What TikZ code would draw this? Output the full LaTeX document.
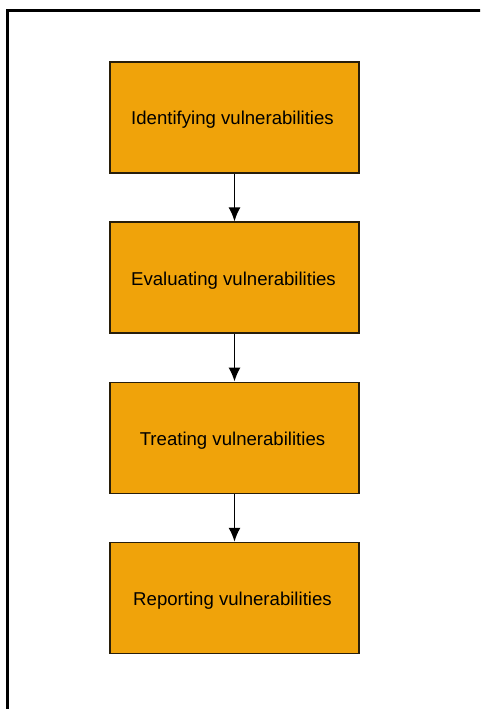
\documentclass[tikz,border=0pt]{standalone}
\usepackage{fontspec}
\setmainfont{Liberation Sans}
\usepackage{tikz}
\usetikzlibrary{arrows.meta, positioning}
\definecolor{stageorange}{RGB}{240,163,10}
\definecolor{stageedge}{RGB}{40,30,10}

\begin{document}
\begin{tikzpicture}[
    x=1pt, y=1pt,
    node distance=47.7pt,
    stagebox/.style={rectangle, draw=stageedge, line width=1.5pt, fill=stageorange, align=center,
        minimum width=249pt, minimum height=111pt, inner sep=0pt,
        font=\fontsize{18.6pt}{22pt}\selectfont},
    arrow/.style={-{Latex[length=14pt,width=12pt]}, line width=1.8pt}
]
\useasboundingbox (0,0) rectangle (480,-709);
\clip (0,0) rectangle (480,-709);
% outer frame, only top and left edges show
\draw[line width=3.2pt] (7.5,-760) |- (540,-10.5);

\node[stagebox] (identify) at (234.5,-117.5) {\raisebox{-2.5pt}[\height][\depth]{\hspace*{-4pt}Identifying vulnerabilities}};
\node[stagebox, below=of identify] (evaluate) {\raisebox{-2.5pt}[\height][\depth]{\hspace*{-2pt}Evaluating vulnerabilities}};
\node[stagebox, below=of evaluate] (treat) {\raisebox{-2.5pt}[\height][\depth]{\hspace*{-4pt}Treating vulnerabilities}};
\node[stagebox, below=of treat] (report) {\raisebox{-2.5pt}[\height][\depth]{\hspace*{-4pt}Reporting vulnerabilities}};

\draw[arrow] (identify) -- (evaluate);
\draw[arrow] (evaluate) -- (treat);
\draw[arrow] (treat) -- (report);
\end{tikzpicture}
\end{document}
